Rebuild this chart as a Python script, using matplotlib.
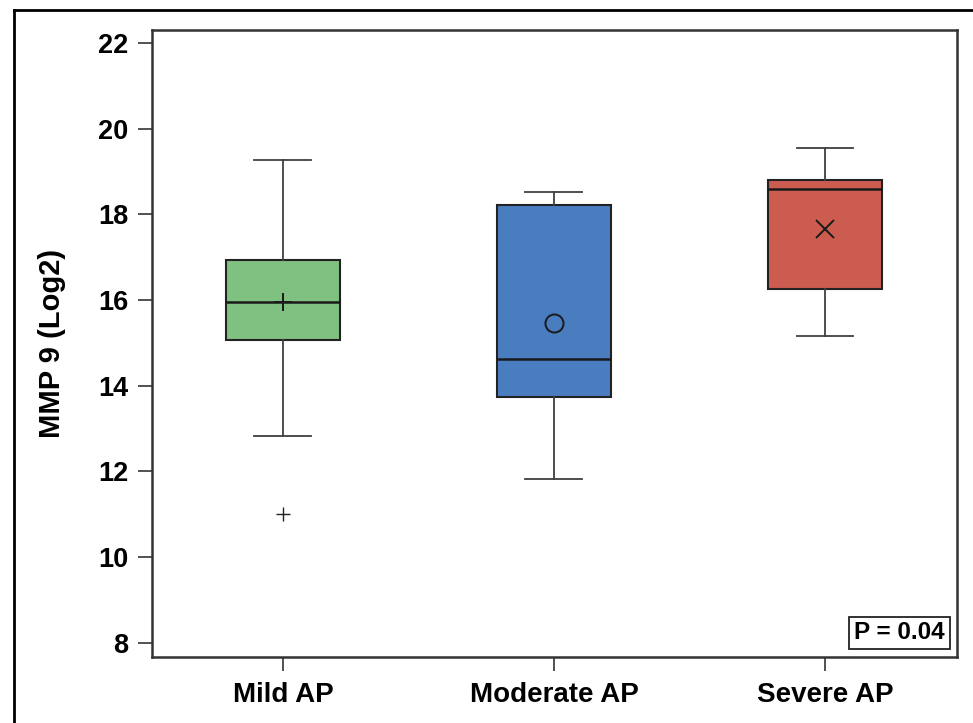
#!/usr/bin/env python3
# -*- coding: utf-8 -*-

import matplotlib
matplotlib.use('Agg')
import matplotlib.pyplot as plt
from matplotlib.lines import Line2D

plt.rc('font', family='Liberation Sans', weight='bold')

TickSize = 19.5
LabelSize = 20
PSize = 17.5

#%%
# Datos
grupos = ['Mild AP', 'Moderate AP', 'Severe AP']
whis_lo = [12.83, 11.83, 15.16]
q1 = [15.07, 13.74, 16.26]
mediana = [15.96, 14.63, 18.59]
q3 = [16.94, 18.22, 18.80]
whis_hi = [19.27, 18.52, 19.55]
media = [15.95, 15.47, 17.66]
atipicos = [[11.01], [], []]

colores = ['#7fc180', '#4a7cc0', '#cc5c50']
marcas_media = ['+', 'o', 'x']
yticks = [8, 10, 12, 14, 16, 18, 20, 22]

#%%
stats = []
for i, g in enumerate(grupos):
    stats.append(dict(label=g, med=mediana[i], q1=q1[i], q3=q3[i],
                      whislo=whis_lo[i], whishi=whis_hi[i],
                      fliers=atipicos[i]))

fig = plt.figure(figsize=(9.73, 7.23), dpi=100)
ax = fig.add_axes([152/973, 1-657/723, 805/973, 627/723])

pos = [1, 2, 3]
bp = ax.bxp(stats, positions=pos, widths=0.42, capwidths=0.21,
            patch_artist=True, showfliers=True,
            boxprops=dict(edgecolor='#222222', linewidth=1.5),
            medianprops=dict(color='#1a1a1a', linewidth=1.8),
            whiskerprops=dict(color='#404040', linewidth=1.3),
            capprops=dict(color='#404040', linewidth=1.3),
            flierprops=dict(marker='+', markeredgecolor='#222222',
                            markersize=10, markeredgewidth=1.0))
for caja, c in zip(bp['boxes'], colores):
    caja.set_facecolor(c)

for p, m, mk in zip(pos, media, marcas_media):
    ax.plot(p, m, marker=mk, markersize=13, markerfacecolor='none',
            markeredgecolor='#1a1a1a', markeredgewidth=1.4, zorder=5)

ax.set_xlim(0.517, 3.487)
ax.set_ylim(7.67, 22.3)
ax.set_yticks(yticks)
ax.set_xticks(pos)
ax.set_xticklabels(grupos)

ax.tick_params(axis='y', labelsize=TickSize, length=10, width=1.2,
               color='#333333', pad=7)
ax.tick_params(axis='x', labelsize=LabelSize, length=10, width=1.2,
               color='#333333', pad=8)
for s in ax.spines.values():
    s.set_linewidth(1.8)
    s.set_color('#333333')

ax.set_ylabel('MMP 9 (Log2)', fontsize=21, fontweight='bold',
              labelpad=23)

ax.text(0.985, 0.02, 'P = 0.04', transform=ax.transAxes, ha='right',
        va='bottom', fontsize=PSize, fontweight='bold',
        bbox=dict(boxstyle='square,pad=0.2', facecolor='white',
                  edgecolor='#222222', linewidth=1.3))

# Marco exterior
fig.add_artist(Line2D([14/973, 14/973], [0, 1-10/723], color='black',
                      linewidth=2, transform=fig.transFigure))
fig.add_artist(Line2D([14/973, 1], [1-10/723, 1-10/723], color='black',
                      linewidth=2, transform=fig.transFigure))

plt.savefig('out.png', dpi=100)
